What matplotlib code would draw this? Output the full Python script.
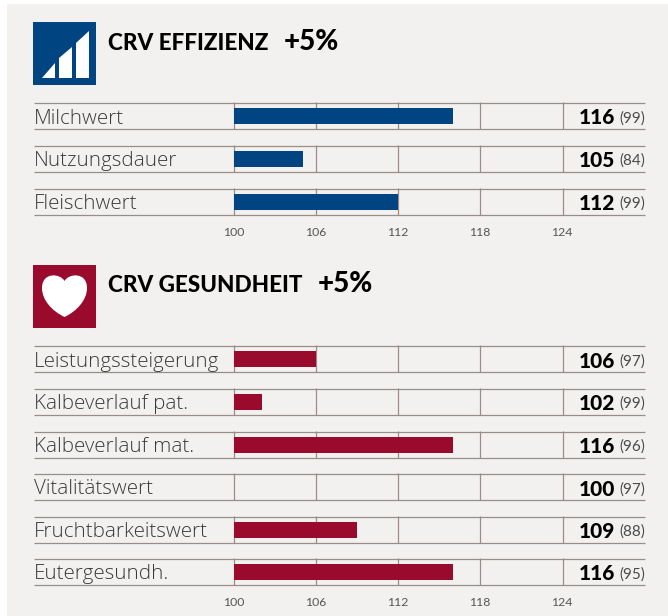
import matplotlib
matplotlib.use('Agg')
import matplotlib.pyplot as plt
from matplotlib.patches import Rectangle, PathPatch, Polygon
from matplotlib.path import Path

W, H = 668, 616

eff_labels = ['Milchwert', 'Nutzungsdauer', 'Fleischwert']
eff_values = [116, 105, 112]
eff_rel = [99, 84, 99]

ges_labels = ['Leistungssteigerung', 'Kalbeverlauf pat.', 'Kalbeverlauf mat.',
              'Vitalitätswert', 'Fruchtbarkeitswert', 'Eutergesundh.']
ges_values = [106, 102, 116, 100, 109, 116]
ges_rel = [97, 99, 96, 97, 88, 95]

ticks = [100, 106, 112, 118, 124]

BLUE = '#004481'
RED = '#990a2c'
LINE = '#9a8c88'
BG = '#f3f1ef'
plt.rcParams['font.family'] = ['Lato', 'DejaVu Sans']

fig = plt.figure(figsize=(W / 100, H / 100), dpi=100)
page = fig.add_axes([0, 0, 1, 1])
page.set_xlim(0, W)
page.set_ylim(H, 0)
page.axis('off')
page.add_patch(Rectangle((7, 4), W - 7, H - 4, color=BG, lw=0))


def x_of(v):
    # 100 -> 234.3, 124 -> 562.5
    return 234.3 + (v - 100) * (562.5 - 234.3) / 24


def block(labels, values, rel, tops, color, tick_y):
    for label, val, r, top in zip(labels, values, rel, tops):
        bottom = top + 26
        page.plot([34, 645], [top, top], color=LINE, lw=0.9, solid_capstyle='butt')
        page.plot([34, 645], [bottom, bottom], color=LINE, lw=0.9, solid_capstyle='butt')
        for t in ticks:
            page.plot([x_of(t), x_of(t)], [top - 1, bottom], color=LINE, lw=0.9, solid_capstyle='butt')
        page.add_patch(Rectangle((x_of(100), top + 5.25), x_of(val) - x_of(100), 16, color=color, lw=0, zorder=3))
        page.text(33.5, top + 15.5, label, family=['Open Sans', 'DejaVu Sans'], fontweight='light',
                  fontsize=14.8, color='#3a3a3a', va='center', ha='left')
        rel_text = page.text(645, top + 15.5, '(%d)' % r, fontsize=11, color='#4a4a4a', va='center', ha='right')
        fig.canvas.draw()
        bb = rel_text.get_window_extent()
        page.text(bb.x0 - 4, top + 15, str(val), fontsize=15, color='black', va='center', ha='right', fontweight='black')
    for t in ticks:
        page.text(x_of(t) - 1, tick_y, str(t), fontsize=8.8, color='#555555', va='center', ha='center')


# icon for efficiency
page.add_patch(Rectangle((33, 22), 63, 63, color=BLUE, lw=0))
page.add_patch(Polygon([(42, 78), (55, 63), (55, 78)], color='white', lw=0))
page.add_patch(Polygon([(59, 78), (59, 58), (72, 47), (72, 78)], color='white', lw=0))
page.add_patch(Polygon([(76, 78), (76, 43), (89, 31), (89, 78)], color='white', lw=0))

# icon for health
page.add_patch(Rectangle((33, 265), 63, 63, color=RED, lw=0))
heart = Path([(64.5, 317), (52, 311), (42, 300), (42, 288), (42, 272), (60, 273), (64.5, 281),
              (69, 273), (87, 272), (87, 288), (87, 300), (77, 311), (64.5, 317)],
             [Path.MOVETO, Path.CURVE4, Path.CURVE4, Path.CURVE4, Path.CURVE4, Path.CURVE4, Path.CURVE4,
              Path.CURVE4, Path.CURVE4, Path.CURVE4, Path.CURVE4, Path.CURVE4, Path.CURVE4])
page.add_patch(PathPatch(heart, facecolor='white', lw=0))

page.text(108, 43, 'CRV EFFIZIENZ', fontsize=16.2, fontweight='black', color='black', va='center')
page.text(284, 42, '+5%', fontsize=20, fontweight='black', color='black', va='center')
page.text(108, 285, 'CRV GESUNDHEIT', fontsize=16.2, fontweight='black', color='black', va='center')
page.text(318, 284.5, '+5%', fontsize=20, fontweight='black', color='black', va='center')

block(eff_labels, eff_values, eff_rel, [103, 145.5, 188.5], BLUE, 232)
block(ges_labels, ges_values, ges_rel, [346, 388.5, 431.5, 474, 516.5, 559], RED, 603)

plt.savefig('out.png', dpi=100)
plt.close('all')
